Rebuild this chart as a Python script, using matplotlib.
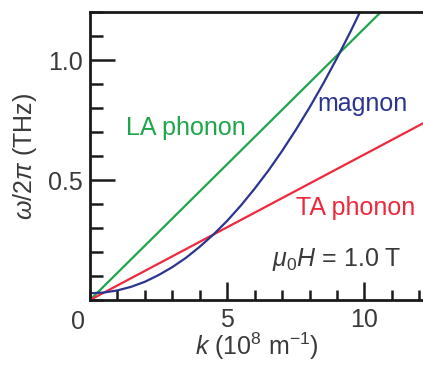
import matplotlib
matplotlib.use("Agg")
from matplotlib import pyplot as plt
from matplotlib.ticker import MultipleLocator, FixedLocator
from matplotlib.transforms import offset_copy

plt.rcParams['font.family'] = ['Liberation Sans', 'DejaVu Sans']
plt.rcParams['mathtext.fontset'] = 'custom'
plt.rcParams['mathtext.rm'] = 'Liberation Sans'
plt.rcParams['mathtext.it'] = 'Liberation Sans:italic'

# wavevector k (10^8 m^-1) and frequency (THz)
la_k = [0, 10.6]
la_freq = [0.0, 1.2]

ta_k = [0, 12.2]
ta_freq = [0.0, 0.74]

magnon_k = [0, 0.5, 1, 1.5, 2, 2.5, 3, 3.5, 4, 4.5, 5, 5.5, 6, 6.5, 7,
            7.5, 8, 8.5, 9, 9.5, 10]
magnon_freq = [0.028, 0.031, 0.040, 0.055, 0.076, 0.104, 0.137, 0.176,
               0.222, 0.273, 0.330, 0.394, 0.464, 0.539, 0.621, 0.709,
               0.802, 0.902, 1.008, 1.120, 1.238]

x_ticks = [5, 10]
y_ticks = [0.5, 1.0]

text_color = "#3a3a3a"
green = "#1fa54a"
red = "#f0283c"
blue = "#2b3590"
fs = 18

fig = plt.figure(figsize=(4.23, 3.65), dpi=100)
ax = fig.add_axes([90 / 423, 65 / 365, 1 - 90 / 423 + 0.001, 288 / 365])

ax.plot(la_k, la_freq, color=green, lw=1.6)
ax.plot(ta_k, ta_freq, color=red, lw=1.6)
ax.plot(magnon_k, magnon_freq, color=blue, lw=1.6)

ax.set_xlim(0, 12.15)
ax.set_ylim(0, 1.2)

ax.xaxis.set_major_locator(FixedLocator(x_ticks))
ax.xaxis.set_minor_locator(MultipleLocator(1))
ax.yaxis.set_major_locator(FixedLocator(y_ticks))
ax.yaxis.set_minor_locator(MultipleLocator(0.1))
ax.set_xticklabels(["5", "10"])
ax.set_yticklabels(["0.5", "1.0"])

ax.tick_params(axis='both', which='both', direction='in', width=1.8,
               colors='#1a1a1a', labelcolor=text_color, labelsize=fs)
ax.tick_params(axis='x', which='major', length=13, pad=6)
ax.tick_params(axis='x', which='minor', length=7)
ax.tick_params(axis='y', which='major', length=18, pad=5)
ax.tick_params(axis='y', which='minor', length=9)

for side in ['left', 'bottom', 'top']:
    ax.spines[side].set_linewidth(2)
    ax.spines[side].set_color('#1a1a1a')
ax.spines['right'].set_visible(False)

# shared origin label at the corner
corner = offset_copy(ax.transAxes, fig=fig, x=-12, y=-22, units='dots')
ax.text(0, 0, "0", transform=corner, ha='center', va='center',
        fontsize=fs, color=text_color)

ax.set_xlabel(r"$k$ (10$^8$ m$^{-1}$)", fontsize=fs, color=text_color, labelpad=-1)
ax.set_ylabel(r"$\omega$/2$\pi$ (THz)", fontsize=fs, color=text_color, labelpad=7)

ax.text(1.3, 0.717, "LA phonon", color=green, fontsize=fs, ha='left', va='center')
ax.text(9.93, 0.817, "magnon", color=blue, fontsize=fs, ha='center', va='center')
ax.text(9.67, 0.383, "TA phonon", color=red, fontsize=fs, ha='center', va='center')
ax.text(8.98, 0.167, r"$\mu_0H$ = 1.0 T", color=text_color, fontsize=fs,
        ha='center', va='center')

fig.savefig("out.png", dpi=100)
